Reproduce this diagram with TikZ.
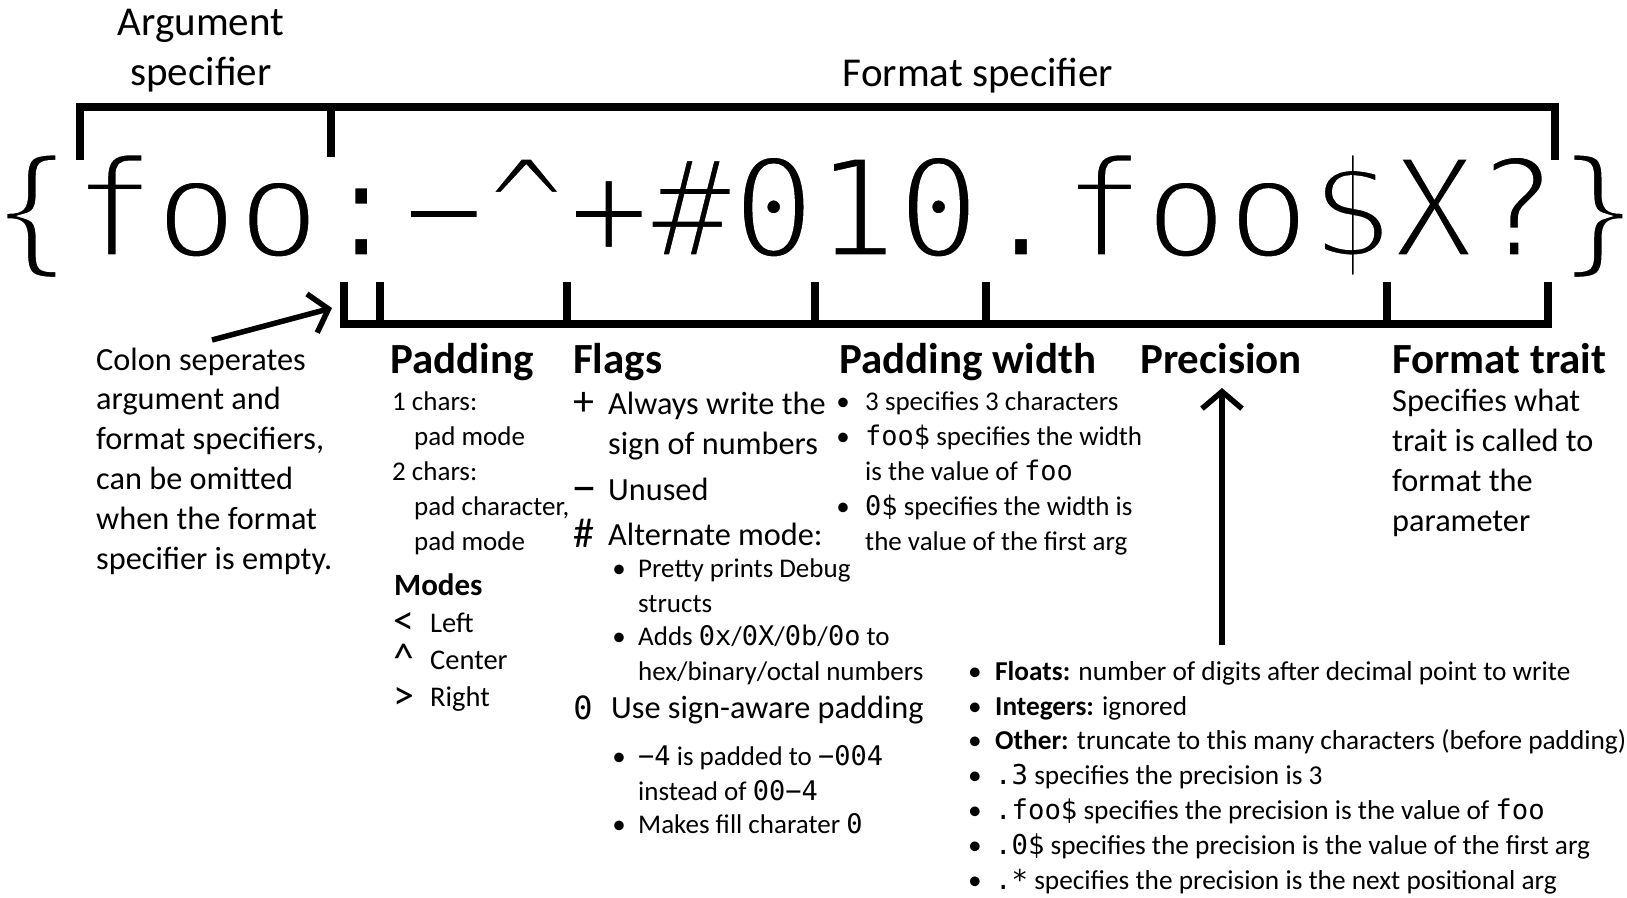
\documentclass[tikz,border=0pt]{standalone}
\usepackage{fontspec}
\setmainfont{Carlito}
\setmonofont{DejaVu Sans Mono}
\usetikzlibrary{arrows.meta}
\tikzstyle{bracket} = [line width=8pt]
\tikzstyle{pointer} = [line width=5.5pt,-{Straight Barb[length=17pt,width=40pt]}]
\tikzstyle{txt} = [anchor=base west, inner sep=0pt, align=left]
\tikzstyle{head} = [txt, font=\bfseries\fontsize{43}{48}\selectfont]
\tikzstyle{body} = [txt, font=\fontsize{32.3}{39.8}\selectfont]
\tikzstyle{small} = [txt, font=\fontsize{27}{35}\selectfont]
\tikzstyle{sym} = [anchor=base, inner sep=0pt, font=\fontsize{42}{39}\selectfont]
\tikzstyle{bul} = [anchor=base, inner sep=0pt, font=\fontsize{27}{35}\selectfont]
\newcommand{\thinstr}[1]{\special{pdf:literal direct 2 Tr 1 1 1 RG 5 w}#1\special{pdf:literal direct 0 Tr 0 0 0 RG 0.4 w}}

\begin{document}
\begin{tikzpicture}[x=1pt,y=-1pt]
\useasboundingbox (0,0) rectangle (1627,897);

% Format string
\node[anchor=base, inner sep=0pt, font=\ttfamily\fontsize{137}{140}\selectfont] (fmt) at (815,257)
  {\thinstr{\{foo:−\textasciicircum+\#010.foo\$X?\}}};

% Labels above
\node[anchor=base, inner sep=0pt, align=center, font=\fontsize{41}{50}\selectfont] (argspec) at (201,85) {Argument\\specifier};
\node[anchor=base, inner sep=0pt, font=\fontsize{41}{48}\selectfont] (fmtspec) at (978,86) {Format specifier};

% Top bracket
\draw[bracket] (80,160) -- (80,107) -- (1555,107) -- (1555,160);
\draw[bracket] (331,107) -- (331,157);

% Bottom bracket
\draw[bracket] (344,282) -- (344,324) -- (1548,324) -- (1548,282);
\foreach \x in {380,567,815,986,1387}
  \draw[bracket] (\x,282) -- (\x,324);

% Colon note (base = last line)
\node[body] (colon) at (96,569) {Colon seperates\\argument and\\format specifiers,\\can be omitted\\when the format\\specifier is empty.};
\coordinate (colontail) at (212,340);
\coordinate (colontip) at (332,308);
\draw[pointer] (colontail) -- (colontip);

% Padding
\node[head] (padhead) at (390,373) {Padding};
\node[small] (padtext) at (392,550) {1 chars:\\\hspace*{22pt}pad mode\\2 chars:\\\hspace*{22pt}pad character,\\\hspace*{22pt}pad mode};
\node[txt, font=\bfseries\fontsize{31}{36}\selectfont] (modes) at (394,595) {Modes};
\node[sym] (lt) at (404,634) {<};
\node[sym] (ct) at (404,672) {\textasciicircum};
\node[sym] (gt) at (404,709) {>};
\node[txt, font=\fontsize{28.5}{37}\selectfont] (left) at (430,632) {Left};
\node[txt, font=\fontsize{28.5}{37}\selectfont] (center) at (430,669) {Center};
\node[txt, font=\fontsize{28.5}{37}\selectfont] (right) at (430,706) {Right};

% Flags
\node[head] (flaghead) at (573,373) {Flags};
\node[sym] (plus) at (584,415) {+};
\node[body] (plustext) at (608,454) {Always write the\\sign of numbers};
\node[sym, font=\fontsize{52}{39}\selectfont] (minus) at (584,503) {–};
\node[body] (minustext) at (608,500) {Unused};
\node[sym] (hash) at (584,547) {\#};
\node[body] (hashtext) at (608,545) {Alternate mode:};
\node[bul] (hb1) at (619,577) {•};
\node[small] (hashtext1) at (638,612) {Pretty prints Debug\\structs};
\node[bul] (hb2) at (619,645) {•};
\node[small] (hashtext2) at (638,680) {Adds \texttt{0x}/\texttt{0X}/\texttt{0b}/\texttt{0o} to\\hex/binary/octal numbers};
\node[sym, font=\ttfamily\fontsize{32}{39}\selectfont] (zero) at (583,719) {0};
\node[body] (zerotext) at (611,718) {Use sign-aware padding};
\node[bul] (zb1) at (619,765) {•};
\node[small] (zerotext1) at (638,800) {\texttt{−4} is padded to \texttt{−004}\\instead of \texttt{00−4}};
\node[bul] (zb2) at (619,833) {•};
\node[small] (zerotext2) at (638,833) {Makes fill charater \texttt{0}};

% Padding width
\node[head] (widthhead) at (839,373) {Padding width};
\node[bul] (wb1) at (843,410) {•};
\node[small] (widthtext1) at (865,410) {3 specifies 3 characters};
\node[bul] (wb2) at (843,445) {•};
\node[small] (widthtext2) at (865,480) {\texttt{foo\$} specifies the width\\is the value of \texttt{foo}};
\node[bul] (wb3) at (843,515) {•};
\node[small] (widthtext3) at (865,550) {\texttt{0\$} specifies the width is\\the value of the first arg};

% Precision
\node[head] (prechead) at (1140,373) {Precision};
\node[small, font=\fontsize{27.3}{34.8}\selectfont] (prectext) at (995,889) {\textbf{Floats:} number of digits after decimal point to write\\
  \textbf{Integers:} ignored\\
  \textbf{Other:} truncate to this many characters (before padding)\\
  \texttt{.3} specifies the precision is 3\\
  \texttt{.foo\$} specifies the precision is the value of \texttt{foo}\\
  \texttt{.0\$} specifies the precision is the value of the first arg\\
  \texttt{.*} specifies the precision is the next positional arg};
\node[bul, align=center, font=\fontsize{27.3}{34.8}\selectfont] (precbul) at (975,889) {•\\•\\•\\•\\•\\•\\•};
\coordinate (precfoot) at (1222,645);
\coordinate (prectip) at (1222,388);
\draw[pointer] (precfoot) -- (prectip);

% Format trait
\node[head] (traithead) at (1392,373) {Format trait};
\node[body, font=\fontsize{32.3}{40}\selectfont] (traittext) at (1392,531) {Specifies what\\trait is called to\\format the\\parameter};
\end{tikzpicture}
\end{document}
